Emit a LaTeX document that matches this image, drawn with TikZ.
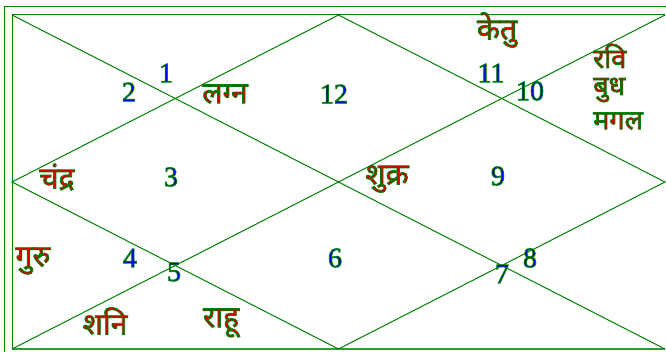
\documentclass[tikz,border=0pt]{standalone}
\usepackage{fontspec}
\newfontfamily\deva[Script=Devanagari]{Noto Sans}
\newfontfamily\numf{Liberation Serif}
\definecolor{chartgreen}{RGB}{0,128,0}
\definecolor{numblue}{RGB}{0,0,230}
\definecolor{planetred}{RGB}{215,0,0}
\newcommand{\outl}[2]{{\color{#1}\special{pdf:code 2 Tr 0.8 w 0 0.5 0 RG}#2\special{pdf:code 0 Tr}}}
\tikzset{
  chartline/.style={draw=chartgreen, line width=1pt},
  housenum/.style={inner sep=0pt, font=\numf\fontsize{28}{30}\selectfont},
  planet/.style={inner sep=0pt, font=\deva\fontsize{30}{34}\selectfont},
  planetsm/.style={planet, anchor=west, font=\deva\fontsize{27}{30}\selectfont},
}
\begin{document}
\begin{tikzpicture}[x=1pt,y=-1pt]
\clip (0,0) rectangle (666,352);
\fill[white] (0,0) rectangle (666,352);
% corners
\coordinate (TL) at (12,15);
\coordinate (TR) at (665,15);
\coordinate (BL) at (12,349);
\coordinate (BR) at (665,349);
\coordinate (TM) at (338.5,15);
\coordinate (LM) at (12,182);
\coordinate (BM) at (338.5,349);
\coordinate (RM) at (665,182);
% outer frame
\draw[chartline] (4,7) rectangle (700,380);
% inner frame
\draw[chartline] (BL) -- (TL) -- (TR);
\draw[draw=chartgreen!80, line width=2pt] (BL) -- (BR);
% diagonals
\draw[chartline] (TL) -- (BR);
\draw[chartline] (BL) -- (TR);
% diamond
\draw[chartline] (TM) -- (LM) -- (BM) -- (RM) -- cycle;
% house numbers
\node[housenum] (n1) at (166,73) {\outl{numblue}{1}};
\node[housenum] (n2) at (129,92) {\outl{numblue}{2}};
\node[housenum] (n3) at (171,177) {\outl{numblue}{3}};
\node[housenum] (n4) at (130,258) {\outl{numblue}{4}};
\node[housenum] (n5) at (174,272) {\outl{numblue}{5}};
\node[housenum] (n6) at (335,258) {\outl{numblue}{6}};
\node[housenum] (n7) at (502,274) {\outl{numblue}{7}};
\node[housenum] (n8) at (530,258) {\outl{numblue}{8}};
\node[housenum] (n9) at (498,176) {\outl{numblue}{9}};
\node[housenum] (n10) at (530,91) {\outl{numblue}{10}};
\node[housenum] (n11) at (491,73) {\outl{numblue}{11}};
\node[housenum] (n12) at (334,94) {\outl{numblue}{12}};
% planets
\node[planet] (lagna) at (225,94) {\outl{planetred}{लग्न}};
\node[planet] (ketu) at (497,30) {\outl{planetred}{केतु}};
\node[planetsm] (ravi) at (593,56) {\outl{planetred}{रवि}};
\node[planetsm] (budh) at (593,90) {\outl{planetred}{बुध}};
\node[planetsm] (mangal) at (593,121) {\outl{planetred}{मगल}};
\node[planet] (chandra) at (57,177) {\outl{planetred}{चंद्र}};
\node[planet] (shukra) at (387,179) {\outl{planetred}{शुक्र}};
\node[planet] (guru) at (33,261) {\outl{planetred}{गुरु}};
\node[planet] (shani) at (105,321) {\outl{planetred}{शनि}};
\node[planet] (rahu) at (221,323) {\outl{planetred}{राहू}};
\end{tikzpicture}
\end{document}
